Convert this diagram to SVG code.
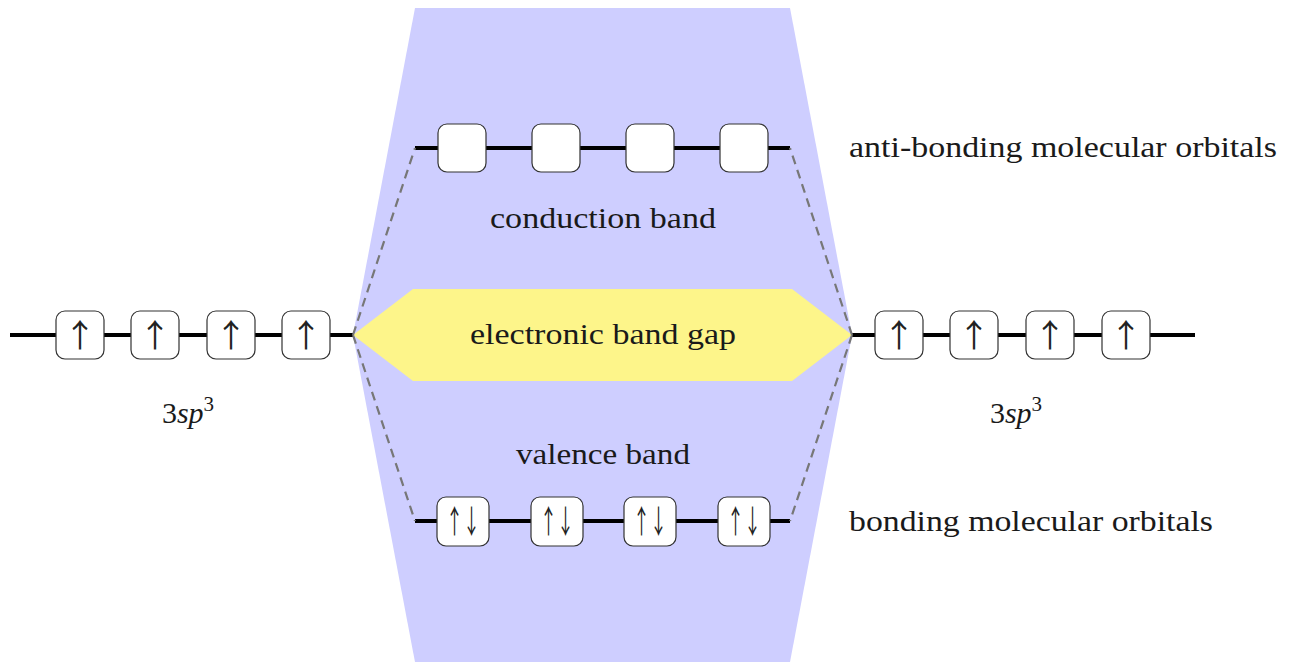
<svg xmlns="http://www.w3.org/2000/svg" width="1296" height="662" viewBox="0 0 1296 662">
<style>
.t{font-family:"Liberation Serif","DejaVu Serif",serif;font-size:30px;fill:#1a1a1a;text-anchor:middle}
.lab{font-family:"Liberation Serif","DejaVu Serif",serif;font-size:30px;fill:#1a1a1a}
.ar{font-family:"Noto Sans CJK JP","DejaVu Sans",sans-serif;font-size:32px;fill:#222;text-anchor:middle}
.box{fill:#fff;stroke:#333;stroke-width:1.2}
.lvl{stroke:#000;stroke-width:4}
.dash{stroke:#777;stroke-width:2.2;stroke-dasharray:9,6;fill:none}
</style>
<rect width="1296" height="662" fill="#fff"/>
<g id="band">
<polygon points="415,8 790,8 852,335 790,662 415,662 353,335" fill="#ceceff"/>
</g>
<g id="gap">
<polygon points="353,335 413,289 792,289 852,335 792,381 413,381" fill="#fdf58a"/>
<text class="t" x="603" y="344" textLength="266" lengthAdjust="spacingAndGlyphs">electronic band gap</text>
</g>
<g id="connectors">
<line class="lvl" x1="10" y1="335" x2="353" y2="335"/>
<line class="lvl" x1="852" y1="335" x2="1195" y2="335"/>
<line class="lvl" x1="415" y1="148" x2="790" y2="148"/>
<line class="lvl" x1="415" y1="521" x2="790" y2="521"/>
<path class="dash" d="M353,335 L415,148 M353,335 L415,521 M852,335 L790,148 M852,335 L790,521"/>
</g>
<g id="left-orbitals">
<rect class="box" x="56" y="311" width="48" height="48" rx="9"/><text class="ar" x="80" y="347">↑</text>
<rect class="box" x="131" y="311" width="48" height="48" rx="9"/><text class="ar" x="155" y="347">↑</text>
<rect class="box" x="207" y="311" width="48" height="48" rx="9"/><text class="ar" x="231" y="347">↑</text>
<rect class="box" x="282" y="311" width="48" height="48" rx="9"/><text class="ar" x="306" y="347">↑</text>
<text class="t" x="188" y="423"><tspan>3</tspan><tspan font-style="italic">sp</tspan><tspan font-size="21" dy="-12">3</tspan></text>
</g>
<g id="right-orbitals">
<rect class="box" x="875" y="311" width="48" height="48" rx="9"/><text class="ar" x="899" y="347">↑</text>
<rect class="box" x="950" y="311" width="48" height="48" rx="9"/><text class="ar" x="974" y="347">↑</text>
<rect class="box" x="1026" y="311" width="48" height="48" rx="9"/><text class="ar" x="1050" y="347">↑</text>
<rect class="box" x="1102" y="311" width="48" height="48" rx="9"/><text class="ar" x="1126" y="347">↑</text>
<text class="t" x="1016" y="423"><tspan>3</tspan><tspan font-style="italic">sp</tspan><tspan font-size="21" dy="-12">3</tspan></text>
</g>
<g id="antibonding">
<rect class="box" x="438" y="124" width="48" height="48" rx="9"/>
<rect class="box" x="532" y="124" width="48" height="48" rx="9"/>
<rect class="box" x="626" y="124" width="48" height="48" rx="9"/>
<rect class="box" x="720" y="124" width="48" height="48" rx="9"/>
<text class="t" x="603" y="228" textLength="226" lengthAdjust="spacingAndGlyphs">conduction band</text>
<text class="lab" x="849" y="157" textLength="428" lengthAdjust="spacingAndGlyphs">anti-bonding molecular orbitals</text>
</g>
<g id="bonding">
<rect class="box" x="437" y="497" width="52" height="49" rx="9"/><text class="ar" x="463" y="533" textLength="34" lengthAdjust="spacingAndGlyphs">↑↓</text>
<rect class="box" x="531" y="497" width="52" height="49" rx="9"/><text class="ar" x="557" y="533" textLength="34" lengthAdjust="spacingAndGlyphs">↑↓</text>
<rect class="box" x="624" y="497" width="52" height="49" rx="9"/><text class="ar" x="650" y="533" textLength="34" lengthAdjust="spacingAndGlyphs">↑↓</text>
<rect class="box" x="718" y="497" width="52" height="49" rx="9"/><text class="ar" x="744" y="533" textLength="34" lengthAdjust="spacingAndGlyphs">↑↓</text>
<text class="t" x="603" y="464" textLength="174" lengthAdjust="spacingAndGlyphs">valence band</text>
<text class="lab" x="849" y="531" textLength="364" lengthAdjust="spacingAndGlyphs">bonding molecular orbitals</text>
</g>
</svg>
